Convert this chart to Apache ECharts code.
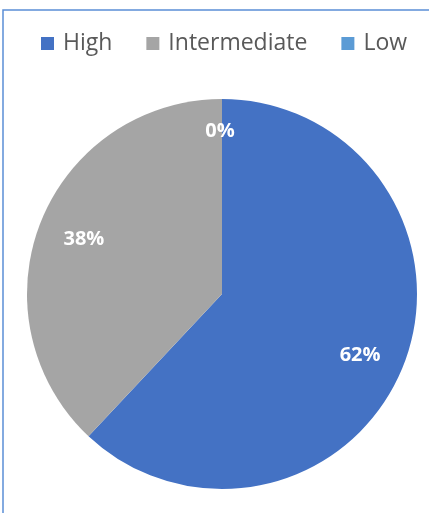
<!DOCTYPE html>
<html>
<head>
<meta charset="utf-8">
<script src="https://cdn.jsdelivr.net/npm/echarts@6/dist/echarts.min.js"></script>
<style>
html,body{margin:0;padding:0;background:#fff;}
#c{width:429px;height:513px;}
</style>
</head>
<body>
<div id="c"></div>
<script>
const categories = ['High', 'Intermediate', 'Low'];
const values = [62, 38, 0];
const colors = ['#4472C4', '#A5A5A5', '#5B9BD5'];

const chart = echarts.init(document.getElementById('c'));
const pieData = categories.map((n, i) => ({
  name: n,
  value: values[i],
  itemStyle: { color: colors[i] }
}));
const labelData = categories.map((n, i) => ({
  name: n,
  value: values[i],
  label: i === 2 ? { offset: [-2, -14] } : (i === 0 ? { offset: [0, 7] } : {})
}));
chart.setOption({
  animation: false,
  graphic: [{
    type: 'rect',
    shape: { x: 3, y: 10, width: 600, height: 600 },
    style: { fill: 'none', stroke: '#5B8ED6', lineWidth: 1.5 },
    z: 0
  }],
  legend: {
    top: 27,
    left: 36,
    itemWidth: 13,
    itemHeight: 13,
    itemGap: 34,
    icon: 'rect',
    data: categories,
    textStyle: { color: '#595959', fontSize: 23, fontFamily: 'Open Sans', padding: [0, 0, 0, 4] }
  },
  series: [{
    type: 'pie',
    center: [222, 294],
    radius: 195,
    startAngle: 90,
    clockwise: true,
    data: pieData,
    label: { show: false },
    labelLine: { show: false },
    silent: true
  }, {
    type: 'pie',
    center: [222, 294],
    radius: [96, 195],
    startAngle: 90,
    clockwise: true,
    data: labelData,
    itemStyle: { color: 'rgba(0,0,0,0)' },
    label: {
      show: true,
      position: 'inside',
      formatter: p => p.value + '%',
      color: '#ffffff',
      fontSize: 20,
      fontWeight: 'bold',
      fontFamily: 'Open Sans'
    },
    labelLine: { show: false },
    silent: true
  }]
});
</script>
</body>
</html>
